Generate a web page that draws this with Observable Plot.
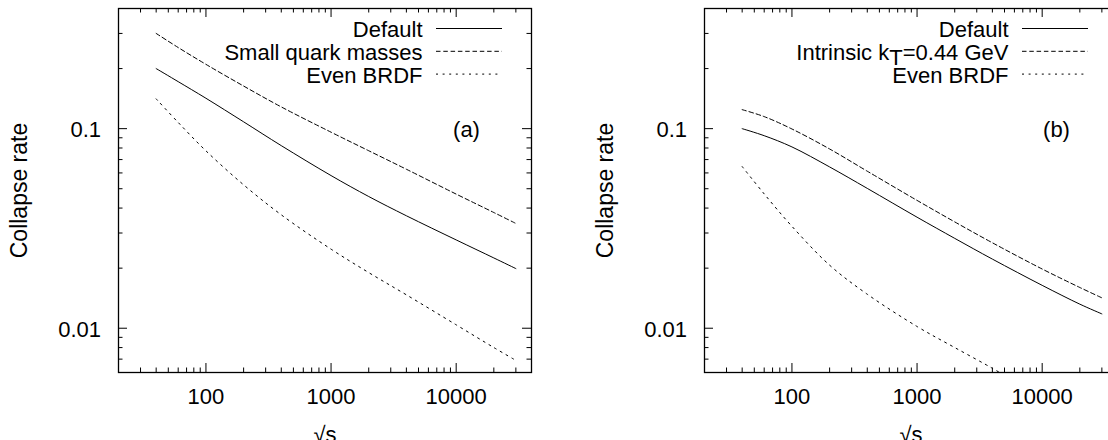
<!DOCTYPE html>
<html><head><meta charset="utf-8">
<script src="https://cdn.jsdelivr.net/npm/d3@7"></script>
<script src="https://cdn.jsdelivr.net/npm/@observablehq/plot@0.6"></script>
<style>
html,body{margin:0;padding:0;background:#fff;overflow:hidden;}
#wrap{position:relative;width:1108px;height:440px;overflow:hidden;background:#fff;}
#wrap svg{max-width:none !important;}
#pa{position:absolute;left:0;top:0;width:554px}
#pb{position:absolute;left:554px;top:0;width:564px}
</style></head>
<body><div id="wrap"><div id="pa"></div><div id="pb"></div></div>
<script>
// ---- data ----
const sqrtS = [40, 60, 100, 200, 400, 1000, 2000, 4000, 10000, 20000, 30000];
// panel (a)
const aDefault    = [0.200, 0.172, 0.142, 0.1082, 0.0822, 0.0582, 0.0457, 0.0366, 0.0277, 0.0225, 0.0199];
const aSmallQuark = [0.300, 0.255, 0.210, 0.1635, 0.1285, 0.096, 0.0775, 0.0626, 0.047, 0.038, 0.0335];
const aEvenBRDF   = [0.141, 0.1074, 0.0774, 0.0523, 0.0370, 0.0249, 0.0190, 0.0147, 0.0104, 0.0080, 0.0069];
// panel (b)
const bDefault    = [0.100, 0.0922, 0.081, 0.0643, 0.0502, 0.0360, 0.0282, 0.0222, 0.0164, 0.0132, 0.0118];
const bIntrinsic  = [0.1245, 0.1149, 0.0996, 0.0791, 0.0612, 0.0437, 0.0341, 0.0268, 0.0198, 0.0160, 0.0142];
const bEvenX      = [40, 60, 100, 200, 400, 1000, 2000, 4000, 5000];
const bEvenBRDF   = [0.0646, 0.0471, 0.0324, 0.0207, 0.0148, 0.0102, 0.0080, 0.0063, 0.0058];

const seriesNamesA = ["Default", "Small quark masses", "Even BRDF"];
const seriesNamesB = ["Default", "Intrinsic k_{T}=0.44 GeV", "Even BRDF"];
const panelTags = ["(a)", "(b)"];

const xDomain = [20, 40000];
const yDomain = [0.006, 0.4];
const xMajor = [100, 1000, 10000];
const xTickLabels = ["100", "1000", "10000"];
const xMinor = [30, 40, 50, 60, 70, 80, 90, 200, 300, 400, 500, 600, 700, 800, 900,
                2000, 3000, 4000, 5000, 6000, 7000, 8000, 9000, 20000, 30000];
const yMajor = [0.01, 0.1];
const yTickLabels = ["0.01", "0.1"];
const yMinor = [0.007, 0.008, 0.009, 0.02, 0.03, 0.04, 0.05, 0.06, 0.07, 0.08, 0.09, 0.2, 0.3];
const xLabel = "\u221As";
const yLabel = "Collapse rate";

// ---- styles ----
const dashes = [null, "4.5,2.8", "2,4.6"];
const FONT = "'Liberation Sans', Arial, Helvetica, sans-serif";

function legendMark(names) {
  return (index, scales, values, dims) => {
    const g = d3.create("svg:g").attr("font-size", 22).attr("fill", "black");
    const right = dims.width - dims.marginRight;
    names.forEach((name, i) => {
      const base = dims.marginTop + 29 + i * 22.8;
      const t = g.append("text").attr("x", right - 108.5).attr("y", base).attr("text-anchor", "end");
      const parts = name.split(/_\{([^}]*)\}/);
      parts.forEach((p, j) => {
        if (!p) return;
        if (j % 2 === 1) {
          t.append("tspan").attr("dy", 5).text(p);
        } else {
          const ts = t.append("tspan").text(p);
          if (j > 0) ts.attr("dy", -5);
        }
      });
      g.append("line")
        .attr("x1", right - 95).attr("x2", right - 29)
        .attr("y1", base - 8.5).attr("y2", base - 8.5)
        .attr("stroke", "black").attr("stroke-width", 1)
        .attr("stroke-dasharray", dashes[i]);
    });
    return g.node();
  };
}

function panel({width, marginLeft, marginRight, series, names, tag, tagDx}) {
  const marginTop = 8, marginBottom = 68;
  const W = width - marginLeft - marginRight;
  const H = 440 - marginTop - marginBottom;
  const lines = series.map((s, k) =>
    Plot.line(s.x.map((x, i) => ({x, y: s.y[i]})), {
      x: "x", y: "y", stroke: "black", strokeWidth: 1,
      strokeDasharray: dashes[k], curve: "catmull-rom", clip: true
    }));
  return Plot.plot({
    width, height: 440, marginTop, marginBottom, marginLeft, marginRight,
    style: {fontFamily: FONT, fontSize: "22px", background: "white", color: "black", maxWidth: "none"},
    x: {type: "log", domain: xDomain},
    y: {type: "log", domain: yDomain},
    marks: [
      // inward ticks on all four sides
      Plot.ruleX(xMajor, {x: d => d, insetTop: H - 9, stroke: "black"}),
      Plot.ruleX(xMajor, {x: d => d, insetBottom: H - 9, stroke: "black"}),
      Plot.ruleX(xMinor, {x: d => d, insetTop: H - 4.5, stroke: "black"}),
      Plot.ruleX(xMinor, {x: d => d, insetBottom: H - 4.5, stroke: "black"}),
      Plot.ruleY(yMajor, {y: d => d, insetRight: W - 9, stroke: "black"}),
      Plot.ruleY(yMajor, {y: d => d, insetLeft: W - 9, stroke: "black"}),
      Plot.ruleY(yMinor, {y: d => d, insetRight: W - 4.5, stroke: "black"}),
      Plot.ruleY(yMinor, {y: d => d, insetLeft: W - 4.5, stroke: "black"}),
      Plot.axisX(xMajor, {anchor: "bottom", tickSize: 0, tickPadding: 16, label: null, fontSize: 22,
        tickFormat: (d) => xTickLabels[xMajor.indexOf(d)], fill: "black"}),
      Plot.axisY(yMajor, {anchor: "left", tickSize: 0, tickPadding: 17.5, label: null, dy: 1.5, fontSize: 22,
        tickFormat: (d) => yTickLabels[yMajor.indexOf(d)], fill: "black"}),
      ...lines,
      Plot.frame({stroke: "black", strokeWidth: 1.3}),
      Plot.text([yLabel], {frameAnchor: "left", text: d => d, rotate: -90, dx: -99,
        fontSize: 23, textAnchor: "middle", lineAnchor: "middle", fill: "black"}),
      Plot.text([xLabel], {frameAnchor: "bottom", text: d => d, dy: 69, lineAnchor: "bottom", fontSize: 22,
        textAnchor: "middle", fill: "black"}),
      Plot.text([tag], {frameAnchor: "top-right", text: d => d, dx: tagDx, dy: 121, fontSize: 22,
        textAnchor: "middle", lineAnchor: "middle", fill: "black"}),
      legendMark(names)
    ]
  });
}

document.getElementById("pa").append(panel({
  width: 554, marginLeft: 118, marginRight: 23,
  series: [{x: sqrtS, y: aDefault}, {x: sqrtS, y: aSmallQuark}, {x: sqrtS, y: aEvenBRDF}],
  names: seriesNamesA, tag: panelTags[0], tagDx: -65
}));
document.getElementById("pb").append(panel({
  width: 564, marginLeft: 150, marginRight: 1,
  series: [{x: sqrtS, y: bDefault}, {x: sqrtS, y: bIntrinsic}, {x: bEvenX, y: bEvenBRDF}],
  names: seriesNamesB, tag: panelTags[1], tagDx: -61
}));
</script>
</body></html>
